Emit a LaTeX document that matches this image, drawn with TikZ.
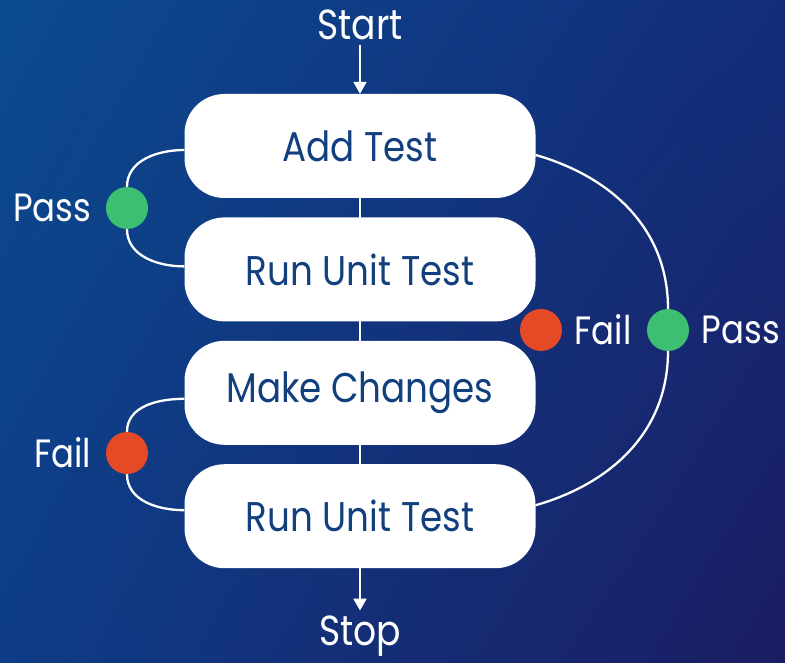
\documentclass[tikz,border=0pt]{standalone}
\usepackage{fontspec}
\setmainfont{Poppins}[FakeStretch=0.86]
\usetikzlibrary{positioning,arrows.meta,backgrounds,shadings}

\definecolor{bgTL}{HTML}{0B4A8F}
\definecolor{bgTR}{HTML}{132D7A}
\definecolor{bgBL}{HTML}{0E3C87}
\definecolor{bgBR}{HTML}{1B1D62}
\definecolor{boxtext}{HTML}{123F7E}
\definecolor{passgreen}{HTML}{3DBF72}
\definecolor{failred}{HTML}{E44A26}

\begin{document}
\begin{tikzpicture}[
		x=1pt, y=1pt,
		stepbox/.style={fill=white, minimum width=351pt, minimum height=104pt,
			rounded corners=40pt, text=boxtext, font=\fontsize{41.5}{44}\selectfont},
		endtext/.style={text=white, font=\fontsize{42}{44}\selectfont, inner sep=1pt},
		flow/.style={draw=white, line width=2.3pt},
		dot/.style={circle, minimum size=42pt, inner sep=0pt},
		lbl/.style={text=white, font=\fontsize{39.5}{44}\selectfont},
	]
	\useasboundingbox (0,0) rectangle (785,-663);

	% the four steps
	\node[stepbox] (add) at (360,-146) {Add Test};
	\node[stepbox, below=19pt of add] (run1) {Run Unit Test};
	\node[stepbox, below=19pt of run1] (change) {Make Changes};
	\node[stepbox, below=19pt of change] (run2) {Run Unit Test};

	\node[endtext] (start) at (360,-25) {Start};
	\node[endtext] (stop) at (360,-636) {Stop};

	% outcome dots
	\node[dot, fill=passgreen, label={[lbl, label distance=11pt]left:Pass}] (passL) at (127,-208) {};
	\node[dot, fill=failred, label={[lbl, label distance=11pt]left:Fail}] (failL) at (127,-453) {};
	\node[dot, fill=failred, label={[lbl, label distance=9pt]right:Fail}] (failR) at (541,-330) {};
	\node[dot, fill=passgreen, label={[lbl, label distance=9pt]right:Pass}] (passR) at (668,-330) {};

	\begin{scope}[on background layer]
		\shade[upper left=bgTL, upper right=bgTR, lower left=bgBL, lower right=bgBR]
			(0,0) rectangle (785,-663);
		\draw[flow] (add) -- (run2);
		\draw[flow, -{Triangle[width=13pt,length=12pt]}] ([yshift=-4pt]start.south) -- (add);
		\draw[flow, -{Triangle[width=13pt,length=12pt]}] (run2) -- ([yshift=4pt]stop.north);
		% loops
		\draw[flow] ([yshift=-4pt]add.west) to[out=180,in=90] (passL)
			to[out=-90,in=180] ([yshift=3pt]run1.west);
		\draw[flow] ([yshift=-6pt]change.west) to[out=180,in=90] (failL)
			to[out=-90,in=180] ([yshift=6pt]run2.west);
		\draw[flow] ([yshift=-9pt]add.east) to[out=-16,in=90] (passR)
			to[out=-90,in=16] ([yshift=11pt]run2.east);
	\end{scope}
\end{tikzpicture}
\end{document}
